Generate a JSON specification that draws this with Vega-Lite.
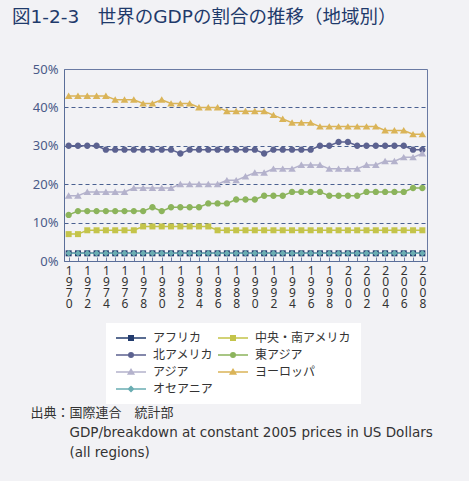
{
  "$schema": "https://vega.github.io/schema/vega-lite/v6.json",
  "autosize": {"type": "none"},
  "width": 363,
  "height": 192,
  "padding": {"left": 64, "top": 69, "right": 42, "bottom": 220},
  "background": "#f2f2f5",
  "title": {
    "text": "図1-2-3　世界のGDPの割合の推移（地域別）",
    "anchor": "start",
    "frame": "group",
    "dx": -52,
    "offset": 18,
    "baseline": "bottom",
    "fontSize": 18.5,
    "fontWeight": "normal",
    "font": "DejaVu Sans, Noto Sans CJK JP",
    "color": "#1f3a6b"
  },
  "config": {
    "view": {"stroke": "#6a7aa3", "strokeWidth": 1},
    "font": "Noto Sans, Noto Sans CJK JP"
  },
  "data": {"values": [
    {"region":"アフリカ","year":1970,"share":2},{"region":"アフリカ","year":1971,"share":2},{"region":"アフリカ","year":1972,"share":2},{"region":"アフリカ","year":1973,"share":2},{"region":"アフリカ","year":1974,"share":2},{"region":"アフリカ","year":1975,"share":2},{"region":"アフリカ","year":1976,"share":2},{"region":"アフリカ","year":1977,"share":2},{"region":"アフリカ","year":1978,"share":2},{"region":"アフリカ","year":1979,"share":2},{"region":"アフリカ","year":1980,"share":2},{"region":"アフリカ","year":1981,"share":2},{"region":"アフリカ","year":1982,"share":2},{"region":"アフリカ","year":1983,"share":2},{"region":"アフリカ","year":1984,"share":2},{"region":"アフリカ","year":1985,"share":2},{"region":"アフリカ","year":1986,"share":2},{"region":"アフリカ","year":1987,"share":2},{"region":"アフリカ","year":1988,"share":2},{"region":"アフリカ","year":1989,"share":2},{"region":"アフリカ","year":1990,"share":2},{"region":"アフリカ","year":1991,"share":2},{"region":"アフリカ","year":1992,"share":2},{"region":"アフリカ","year":1993,"share":2},{"region":"アフリカ","year":1994,"share":2},{"region":"アフリカ","year":1995,"share":2},{"region":"アフリカ","year":1996,"share":2},{"region":"アフリカ","year":1997,"share":2},{"region":"アフリカ","year":1998,"share":2},{"region":"アフリカ","year":1999,"share":2},{"region":"アフリカ","year":2000,"share":2},{"region":"アフリカ","year":2001,"share":2},{"region":"アフリカ","year":2002,"share":2},{"region":"アフリカ","year":2003,"share":2},{"region":"アフリカ","year":2004,"share":2},{"region":"アフリカ","year":2005,"share":2},{"region":"アフリカ","year":2006,"share":2},{"region":"アフリカ","year":2007,"share":2},{"region":"アフリカ","year":2008,"share":2},
    {"region":"中央・南アメリカ","year":1970,"share":7},{"region":"中央・南アメリカ","year":1971,"share":7},{"region":"中央・南アメリカ","year":1972,"share":8},{"region":"中央・南アメリカ","year":1973,"share":8},{"region":"中央・南アメリカ","year":1974,"share":8},{"region":"中央・南アメリカ","year":1975,"share":8},{"region":"中央・南アメリカ","year":1976,"share":8},{"region":"中央・南アメリカ","year":1977,"share":8},{"region":"中央・南アメリカ","year":1978,"share":9},{"region":"中央・南アメリカ","year":1979,"share":9},{"region":"中央・南アメリカ","year":1980,"share":9},{"region":"中央・南アメリカ","year":1981,"share":9},{"region":"中央・南アメリカ","year":1982,"share":9},{"region":"中央・南アメリカ","year":1983,"share":9},{"region":"中央・南アメリカ","year":1984,"share":9},{"region":"中央・南アメリカ","year":1985,"share":9},{"region":"中央・南アメリカ","year":1986,"share":8},{"region":"中央・南アメリカ","year":1987,"share":8},{"region":"中央・南アメリカ","year":1988,"share":8},{"region":"中央・南アメリカ","year":1989,"share":8},{"region":"中央・南アメリカ","year":1990,"share":8},{"region":"中央・南アメリカ","year":1991,"share":8},{"region":"中央・南アメリカ","year":1992,"share":8},{"region":"中央・南アメリカ","year":1993,"share":8},{"region":"中央・南アメリカ","year":1994,"share":8},{"region":"中央・南アメリカ","year":1995,"share":8},{"region":"中央・南アメリカ","year":1996,"share":8},{"region":"中央・南アメリカ","year":1997,"share":8},{"region":"中央・南アメリカ","year":1998,"share":8},{"region":"中央・南アメリカ","year":1999,"share":8},{"region":"中央・南アメリカ","year":2000,"share":8},{"region":"中央・南アメリカ","year":2001,"share":8},{"region":"中央・南アメリカ","year":2002,"share":8},{"region":"中央・南アメリカ","year":2003,"share":8},{"region":"中央・南アメリカ","year":2004,"share":8},{"region":"中央・南アメリカ","year":2005,"share":8},{"region":"中央・南アメリカ","year":2006,"share":8},{"region":"中央・南アメリカ","year":2007,"share":8},{"region":"中央・南アメリカ","year":2008,"share":8},
    {"region":"北アメリカ","year":1970,"share":30},{"region":"北アメリカ","year":1971,"share":30},{"region":"北アメリカ","year":1972,"share":30},{"region":"北アメリカ","year":1973,"share":30},{"region":"北アメリカ","year":1974,"share":29},{"region":"北アメリカ","year":1975,"share":29},{"region":"北アメリカ","year":1976,"share":29},{"region":"北アメリカ","year":1977,"share":29},{"region":"北アメリカ","year":1978,"share":29},{"region":"北アメリカ","year":1979,"share":29},{"region":"北アメリカ","year":1980,"share":29},{"region":"北アメリカ","year":1981,"share":29},{"region":"北アメリカ","year":1982,"share":28},{"region":"北アメリカ","year":1983,"share":29},{"region":"北アメリカ","year":1984,"share":29},{"region":"北アメリカ","year":1985,"share":29},{"region":"北アメリカ","year":1986,"share":29},{"region":"北アメリカ","year":1987,"share":29},{"region":"北アメリカ","year":1988,"share":29},{"region":"北アメリカ","year":1989,"share":29},{"region":"北アメリカ","year":1990,"share":29},{"region":"北アメリカ","year":1991,"share":28},{"region":"北アメリカ","year":1992,"share":29},{"region":"北アメリカ","year":1993,"share":29},{"region":"北アメリカ","year":1994,"share":29},{"region":"北アメリカ","year":1995,"share":29},{"region":"北アメリカ","year":1996,"share":29},{"region":"北アメリカ","year":1997,"share":30},{"region":"北アメリカ","year":1998,"share":30},{"region":"北アメリカ","year":1999,"share":31},{"region":"北アメリカ","year":2000,"share":31},{"region":"北アメリカ","year":2001,"share":30},{"region":"北アメリカ","year":2002,"share":30},{"region":"北アメリカ","year":2003,"share":30},{"region":"北アメリカ","year":2004,"share":30},{"region":"北アメリカ","year":2005,"share":30},{"region":"北アメリカ","year":2006,"share":30},{"region":"北アメリカ","year":2007,"share":29},{"region":"北アメリカ","year":2008,"share":29},
    {"region":"東アジア","year":1970,"share":12},{"region":"東アジア","year":1971,"share":13},{"region":"東アジア","year":1972,"share":13},{"region":"東アジア","year":1973,"share":13},{"region":"東アジア","year":1974,"share":13},{"region":"東アジア","year":1975,"share":13},{"region":"東アジア","year":1976,"share":13},{"region":"東アジア","year":1977,"share":13},{"region":"東アジア","year":1978,"share":13},{"region":"東アジア","year":1979,"share":14},{"region":"東アジア","year":1980,"share":13},{"region":"東アジア","year":1981,"share":14},{"region":"東アジア","year":1982,"share":14},{"region":"東アジア","year":1983,"share":14},{"region":"東アジア","year":1984,"share":14},{"region":"東アジア","year":1985,"share":15},{"region":"東アジア","year":1986,"share":15},{"region":"東アジア","year":1987,"share":15},{"region":"東アジア","year":1988,"share":16},{"region":"東アジア","year":1989,"share":16},{"region":"東アジア","year":1990,"share":16},{"region":"東アジア","year":1991,"share":17},{"region":"東アジア","year":1992,"share":17},{"region":"東アジア","year":1993,"share":17},{"region":"東アジア","year":1994,"share":18},{"region":"東アジア","year":1995,"share":18},{"region":"東アジア","year":1996,"share":18},{"region":"東アジア","year":1997,"share":18},{"region":"東アジア","year":1998,"share":17},{"region":"東アジア","year":1999,"share":17},{"region":"東アジア","year":2000,"share":17},{"region":"東アジア","year":2001,"share":17},{"region":"東アジア","year":2002,"share":18},{"region":"東アジア","year":2003,"share":18},{"region":"東アジア","year":2004,"share":18},{"region":"東アジア","year":2005,"share":18},{"region":"東アジア","year":2006,"share":18},{"region":"東アジア","year":2007,"share":19},{"region":"東アジア","year":2008,"share":19},
    {"region":"アジア","year":1970,"share":17},{"region":"アジア","year":1971,"share":17},{"region":"アジア","year":1972,"share":18},{"region":"アジア","year":1973,"share":18},{"region":"アジア","year":1974,"share":18},{"region":"アジア","year":1975,"share":18},{"region":"アジア","year":1976,"share":18},{"region":"アジア","year":1977,"share":19},{"region":"アジア","year":1978,"share":19},{"region":"アジア","year":1979,"share":19},{"region":"アジア","year":1980,"share":19},{"region":"アジア","year":1981,"share":19},{"region":"アジア","year":1982,"share":20},{"region":"アジア","year":1983,"share":20},{"region":"アジア","year":1984,"share":20},{"region":"アジア","year":1985,"share":20},{"region":"アジア","year":1986,"share":20},{"region":"アジア","year":1987,"share":21},{"region":"アジア","year":1988,"share":21},{"region":"アジア","year":1989,"share":22},{"region":"アジア","year":1990,"share":23},{"region":"アジア","year":1991,"share":23},{"region":"アジア","year":1992,"share":24},{"region":"アジア","year":1993,"share":24},{"region":"アジア","year":1994,"share":24},{"region":"アジア","year":1995,"share":25},{"region":"アジア","year":1996,"share":25},{"region":"アジア","year":1997,"share":25},{"region":"アジア","year":1998,"share":24},{"region":"アジア","year":1999,"share":24},{"region":"アジア","year":2000,"share":24},{"region":"アジア","year":2001,"share":24},{"region":"アジア","year":2002,"share":25},{"region":"アジア","year":2003,"share":25},{"region":"アジア","year":2004,"share":26},{"region":"アジア","year":2005,"share":26},{"region":"アジア","year":2006,"share":27},{"region":"アジア","year":2007,"share":27},{"region":"アジア","year":2008,"share":28},
    {"region":"ヨーロッパ","year":1970,"share":43},{"region":"ヨーロッパ","year":1971,"share":43},{"region":"ヨーロッパ","year":1972,"share":43},{"region":"ヨーロッパ","year":1973,"share":43},{"region":"ヨーロッパ","year":1974,"share":43},{"region":"ヨーロッパ","year":1975,"share":42},{"region":"ヨーロッパ","year":1976,"share":42},{"region":"ヨーロッパ","year":1977,"share":42},{"region":"ヨーロッパ","year":1978,"share":41},{"region":"ヨーロッパ","year":1979,"share":41},{"region":"ヨーロッパ","year":1980,"share":42},{"region":"ヨーロッパ","year":1981,"share":41},{"region":"ヨーロッパ","year":1982,"share":41},{"region":"ヨーロッパ","year":1983,"share":41},{"region":"ヨーロッパ","year":1984,"share":40},{"region":"ヨーロッパ","year":1985,"share":40},{"region":"ヨーロッパ","year":1986,"share":40},{"region":"ヨーロッパ","year":1987,"share":39},{"region":"ヨーロッパ","year":1988,"share":39},{"region":"ヨーロッパ","year":1989,"share":39},{"region":"ヨーロッパ","year":1990,"share":39},{"region":"ヨーロッパ","year":1991,"share":39},{"region":"ヨーロッパ","year":1992,"share":38},{"region":"ヨーロッパ","year":1993,"share":37},{"region":"ヨーロッパ","year":1994,"share":36},{"region":"ヨーロッパ","year":1995,"share":36},{"region":"ヨーロッパ","year":1996,"share":36},{"region":"ヨーロッパ","year":1997,"share":35},{"region":"ヨーロッパ","year":1998,"share":35},{"region":"ヨーロッパ","year":1999,"share":35},{"region":"ヨーロッパ","year":2000,"share":35},{"region":"ヨーロッパ","year":2001,"share":35},{"region":"ヨーロッパ","year":2002,"share":35},{"region":"ヨーロッパ","year":2003,"share":35},{"region":"ヨーロッパ","year":2004,"share":34},{"region":"ヨーロッパ","year":2005,"share":34},{"region":"ヨーロッパ","year":2006,"share":34},{"region":"ヨーロッパ","year":2007,"share":33},{"region":"ヨーロッパ","year":2008,"share":33},
    {"region":"オセアニア","year":1970,"share":2},{"region":"オセアニア","year":1971,"share":2},{"region":"オセアニア","year":1972,"share":2},{"region":"オセアニア","year":1973,"share":2},{"region":"オセアニア","year":1974,"share":2},{"region":"オセアニア","year":1975,"share":2},{"region":"オセアニア","year":1976,"share":2},{"region":"オセアニア","year":1977,"share":2},{"region":"オセアニア","year":1978,"share":2},{"region":"オセアニア","year":1979,"share":2},{"region":"オセアニア","year":1980,"share":2},{"region":"オセアニア","year":1981,"share":2},{"region":"オセアニア","year":1982,"share":2},{"region":"オセアニア","year":1983,"share":2},{"region":"オセアニア","year":1984,"share":2},{"region":"オセアニア","year":1985,"share":2},{"region":"オセアニア","year":1986,"share":2},{"region":"オセアニア","year":1987,"share":2},{"region":"オセアニア","year":1988,"share":2},{"region":"オセアニア","year":1989,"share":2},{"region":"オセアニア","year":1990,"share":2},{"region":"オセアニア","year":1991,"share":2},{"region":"オセアニア","year":1992,"share":2},{"region":"オセアニア","year":1993,"share":2},{"region":"オセアニア","year":1994,"share":2},{"region":"オセアニア","year":1995,"share":2},{"region":"オセアニア","year":1996,"share":2},{"region":"オセアニア","year":1997,"share":2},{"region":"オセアニア","year":1998,"share":2},{"region":"オセアニア","year":1999,"share":2},{"region":"オセアニア","year":2000,"share":2},{"region":"オセアニア","year":2001,"share":2},{"region":"オセアニア","year":2002,"share":2},{"region":"オセアニア","year":2003,"share":2},{"region":"オセアニア","year":2004,"share":2},{"region":"オセアニア","year":2005,"share":2},{"region":"オセアニア","year":2006,"share":2},{"region":"オセアニア","year":2007,"share":2},{"region":"オセアニア","year":2008,"share":2}
  ]},
  "encoding": {
    "x": {
      "field": "year",
      "type": "ordinal",
      "scale": {"type": "point", "padding": 0.5},
      "axis": {
        "labelExpr": "datum.value % 2 == 0 ? split(datum.label, '') : ''",
        "labelAngle": 0,
        "labelFontSize": 12,
        "labelLineHeight": 11,
        "labelColor": "#333333",
        "labelBaseline": "top",
        "labelOverlap": false,
        "labelPadding": 8,
        "tickSize": -4,
        "tickColor": "#6a7aa3",
        "domainColor": "#5a6e99",
        "title": ["GDP/breakdown at constant 2005 prices in US Dollars", "(all regions)"],
        "titleX": 5,
        "titleY": 164,
        "titleAlign": "left",
        "titleAnchor": "start",
        "titleBaseline": "top",
        "titleFont": "DejaVu Sans",
        "titleFontSize": 13.5,
        "titleFontWeight": "normal",
        "titleLineHeight": 20,
        "titleColor": "#333333"
      }
    },
    "y": {
      "field": "share",
      "type": "quantitative",
      "scale": {"domain": [0, 50], "nice": false},
      "axis": {
        "values": [0, 10, 20, 30, 40, 50],
        "labelExpr": "datum.value + '%'",
        "ticks": false,
        "labelPadding": 6,
        "labelFontSize": 13,
        "labelColor": "#4a5a88",
        "domainColor": "#5a6e99",
        "grid": true,
        "gridDash": [4, 3],
        "gridColor": "#4a6090",
        "gridOpacity": {"condition": {"test": "datum.value === 0 || datum.value === 50", "value": 0}, "value": 1},
        "title": "出典：国際連合　統計部",
        "titleAngle": 0,
        "titleX": -34,
        "titleY": 343,
        "titleAlign": "left",
        "titleAnchor": "start",
        "titleBaseline": "middle",
        "titleFont": "Noto Sans CJK JP",
        "titleFontSize": 13,
        "titleFontWeight": "normal",
        "titleColor": "#333333"
      }
    },
    "color": {
      "field": "region",
      "type": "nominal",
      "scale": {
        "domain": ["アフリカ", "中央・南アメリカ", "北アメリカ", "東アジア", "アジア", "ヨーロッパ", "オセアニア"],
        "range": ["#233c6e", "#c4c44a", "#5c6290", "#8cb45c", "#b4b2cc", "#dab458", "#6aadb2"]
      },
      "legend": {
        "title": null,
        "orient": "none",
        "direction": "horizontal",
        "legendX": 42,
        "legendY": 254,
        "columns": 2,
        "columnPadding": 1,
        "rowPadding": 5,
        "padding": 9,
        "fillColor": "white",
        "symbolSize": 100,
        "symbolOffset": 10,
        "symbolOpacity": 1,
        "symbolStrokeWidth": 1.5,
        "labelOffset": 16,
        "labelFontSize": 12,
        "labelFont": "Noto Sans CJK JP",
        "labelColor": "#333333"
      }
    }
  },
  "layer": [
    {
      "mark": {"type": "point", "filled": false, "opacity": 0, "size": 100, "strokeWidth": 1.5},
      "encoding": {
        "shape": {
          "field": "region",
          "type": "nominal",
          "scale": {
            "domain": ["アフリカ", "中央・南アメリカ", "北アメリカ", "東アジア", "アジア", "ヨーロッパ", "オセアニア"],
            "range": [
              "M-3,0H3M-0.45,-0.45H0.45V0.45H-0.45ZM-0.15,-0.15H0.15V0.15H-0.15Z",
              "M-3,0H3M-0.45,-0.45H0.45V0.45H-0.45ZM-0.15,-0.15H0.15V0.15H-0.15Z",
              "M-3,0H3M0.45,0A0.45,0.45,0,1,1,-0.45,0A0.45,0.45,0,1,1,0.45,0ZM0.15,0A0.15,0.15,0,1,1,-0.15,0A0.15,0.15,0,1,1,0.15,0Z",
              "M-3,0H3M0.45,0A0.45,0.45,0,1,1,-0.45,0A0.45,0.45,0,1,1,0.45,0ZM0.15,0A0.15,0.15,0,1,1,-0.15,0A0.15,0.15,0,1,1,0.15,0Z",
              "M-3,0H3M0,-0.5L0.55,0.4L-0.55,0.4ZM0,-0.15L0.2,0.2L-0.2,0.2Z",
              "M-3,0H3M0,-0.5L0.55,0.4L-0.55,0.4ZM0,-0.15L0.2,0.2L-0.2,0.2Z",
              "M-3,0H3M0,-0.5L0.5,0L0,0.5L-0.5,0ZM0,-0.18L0.18,0L0,0.18L-0.18,0Z"
            ]
          },
          "legend": null
        }
      }
    },
    {
      "mark": {"type": "line", "strokeWidth": 1.5}
    },
    {
      "transform": [{"filter": {"field": "region", "oneOf": ["アフリカ", "中央・南アメリカ"]}}],
      "mark": {"type": "point", "filled": true, "opacity": 1, "size": 64, "shape": "M-0.75,-0.75H0.75V0.75H-0.75Z"}
    },
    {
      "transform": [{"filter": {"field": "region", "oneOf": ["北アメリカ", "東アジア"]}}],
      "mark": {"type": "point", "filled": true, "opacity": 1, "size": 64, "shape": "M0.8,0A0.8,0.8,0,1,1,-0.8,0A0.8,0.8,0,1,1,0.8,0Z"}
    },
    {
      "transform": [{"filter": {"field": "region", "oneOf": ["アジア", "ヨーロッパ"]}}],
      "mark": {"type": "point", "filled": true, "opacity": 1, "size": 64, "shape": "M0,-0.85L0.95,0.75L-0.95,0.75Z"}
    },
    {
      "transform": [{"filter": {"field": "region", "oneOf": ["オセアニア"]}}],
      "mark": {"type": "point", "filled": true, "opacity": 1, "size": 64, "shape": "M0,-0.8L0.8,0L0,0.8L-0.8,0Z"}
    }
  ]
}
